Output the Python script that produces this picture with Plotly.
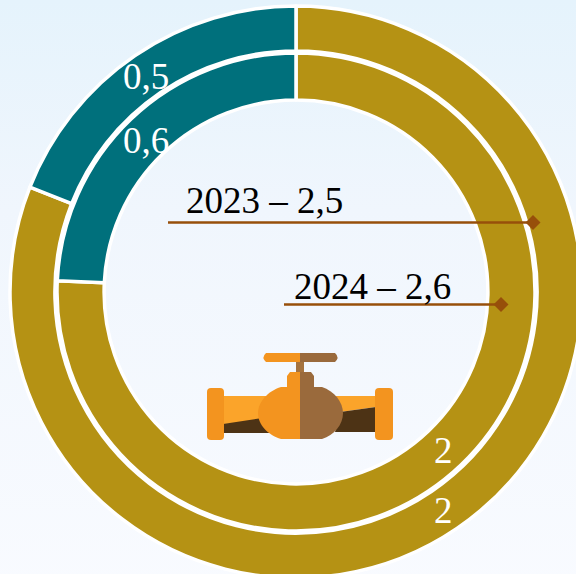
import base64
import plotly.graph_objects as go

# --- data ---
categories = ["Gold", "Teal"]
outer_values = [2.0, 0.47]
inner_values = [2.0, 0.64]
slice_colors = ["#B59214", "#00707C"]
value_labels = ["0,5", "0,6", "2", "2"]
year_labels = ["2023 – 2,5", "2024 – 2,6"]

W, H = 600, 600
CX, CY = 296, 292


def px(x):
    return x / W


def py(y):
    return 1 - y / H


def dom(r):
    return dict(x=[px(CX - r), px(CX + r)], y=[py(CY + r), py(CY - r)])


def pie(values, r, hole):
    return go.Pie(
        labels=categories, values=values, domain=dom(r), hole=hole, sort=False,
        direction="clockwise", rotation=0, textinfo="none", hoverinfo="label+value",
        marker=dict(colors=slice_colors, line=dict(color="white", width=3.5)),
        showlegend=False,
    )


fig = go.Figure([pie(outer_values, 286, 0.843), pie(inner_values, 239, 0.803)])


def poly(path, color):
    """Icon path given in page pixels: each token pair is converted to paper units."""
    out = []
    for t in path.split():
        if t.isalpha():
            out.append(t)
        else:
            x, y = t.split(",")
            out.append(f"{px(float(x)):.5f},{py(float(y)):.5f}")
    return dict(type="path", xref="paper", yref="paper", path=" ".join(out),
                fillcolor=color, line=dict(width=0), layer="above")


ORANGE = "#F3941F"
BROWN = "#9A6A3C"
LIGHT = "#FBA42A"
DARK = "#4D3315"
shapes = [
    # pipe
    poly("M 223,396 L 267,396 L 267,423 L 223,424 Z", LIGHT),
    poly("M 223,424 L 262,418 L 270,433 L 223,433 Z", DARK),
    poly("M 335,396 L 376,396 L 376,407 L 340,412 Z", LIGHT),
    poly("M 340,412 L 376,407 L 376,432 L 335,432 Z", DARK),
    # flanges
    poly("M 211,388 L 220,388 Q 224,388 224,392 L 224,436 Q 224,440 220,440 L 211,440 Q 207,440 207,436 L 207,392 Q 207,388 211,388 Z", ORANGE),
    poly("M 379,388 L 389,388 Q 393,388 393,392 L 393,436 Q 393,440 389,440 L 379,440 Q 375,440 375,436 L 375,392 Q 375,388 379,388 Z", ORANGE),
    # body
    poly("M 300,387 L 281,387 C 268,391 258,402 258,413 C 258,425 268,435 281,439 L 300,439 Z", ORANGE),
    poly("M 300,387 L 322,387 C 334,391 343,402 343,413 C 343,425 334,435 322,439 L 300,439 Z", BROWN),
    # bonnet
    poly("M 290,372 L 300,372 L 300,388 L 287,388 L 287,376 Z", ORANGE),
    poly("M 300,372 L 311,372 L 314,376 L 314,388 L 300,388 Z", BROWN),
    # stem
    poly("M 296,362 L 304,362 L 304,372 L 296,372 Z", "#A5733F"),
    # handle
    poly("M 266,353 L 300,353 L 300,362 L 266,362 Q 261,357.5 266,353 Z", ORANGE),
    poly("M 300,353 L 335,353 Q 340,357.5 335,362 L 300,362 Z", BROWN),
]

LINE = "#974F0A"
for x0, x1, y in [(168, 533, 222.5), (284, 501, 304.5)]:
    shapes.append(dict(type="line", xref="paper", yref="paper", x0=px(x0), x1=px(x1),
                       y0=py(y), y1=py(y), line=dict(color=LINE, width=2.5), layer="above"))
    d = 7.5
    shapes.append(poly(f"M {x1-d},{y} L {x1},{y-d} L {x1+d},{y} L {x1},{y+d} Z", LINE))

annotations = []
for text, x, y in zip(value_labels, [145.5, 145.5, 443, 443], [77, 140, 450, 510]):
    annotations.append(dict(text=text, x=px(x), y=py(y), xref="paper", yref="paper",
                            showarrow=False, xanchor="center", yanchor="middle",
                            font=dict(family="Liberation Serif", size=37, color="white")))
for text, x, y in zip(year_labels, [264.5, 372.5], [201, 286]):
    annotations.append(dict(text=text, x=px(x), y=py(y), xref="paper", yref="paper",
                            showarrow=False, xanchor="center", yanchor="middle",
                            font=dict(family="Liberation Serif", size=37, color="black")))

svg = (f'<svg xmlns="http://www.w3.org/2000/svg" width="{W}" height="{H}">'
       '<defs><linearGradient id="g" x1="0" y1="0" x2="0" y2="1">'
       '<stop offset="0" stop-color="#E5F3FC"/><stop offset="0.35" stop-color="#F0F6FD"/>'
       '<stop offset="1" stop-color="#F9FBFF"/></linearGradient></defs>'
       f'<rect width="{W}" height="{H}" fill="url(#g)"/></svg>')
uri = "data:image/svg+xml;base64," + base64.b64encode(svg.encode()).decode()

fig.update_layout(
    width=W, height=H, margin=dict(l=0, r=0, t=0, b=0),
    paper_bgcolor="#F5F9FE", plot_bgcolor="rgba(0,0,0,0)",
    shapes=shapes, annotations=annotations,
    images=[dict(source=uri, xref="paper", yref="paper", x=0, y=1, sizex=1, sizey=1,
                 xanchor="left", yanchor="top", sizing="stretch", layer="below")],
)
fig.write_html(
    "out.html", config=dict(displayModeBar=False),
    post_script="document.documentElement.style.overflow='hidden';document.body.style.overflow='hidden';document.body.style.margin='0';",
)
